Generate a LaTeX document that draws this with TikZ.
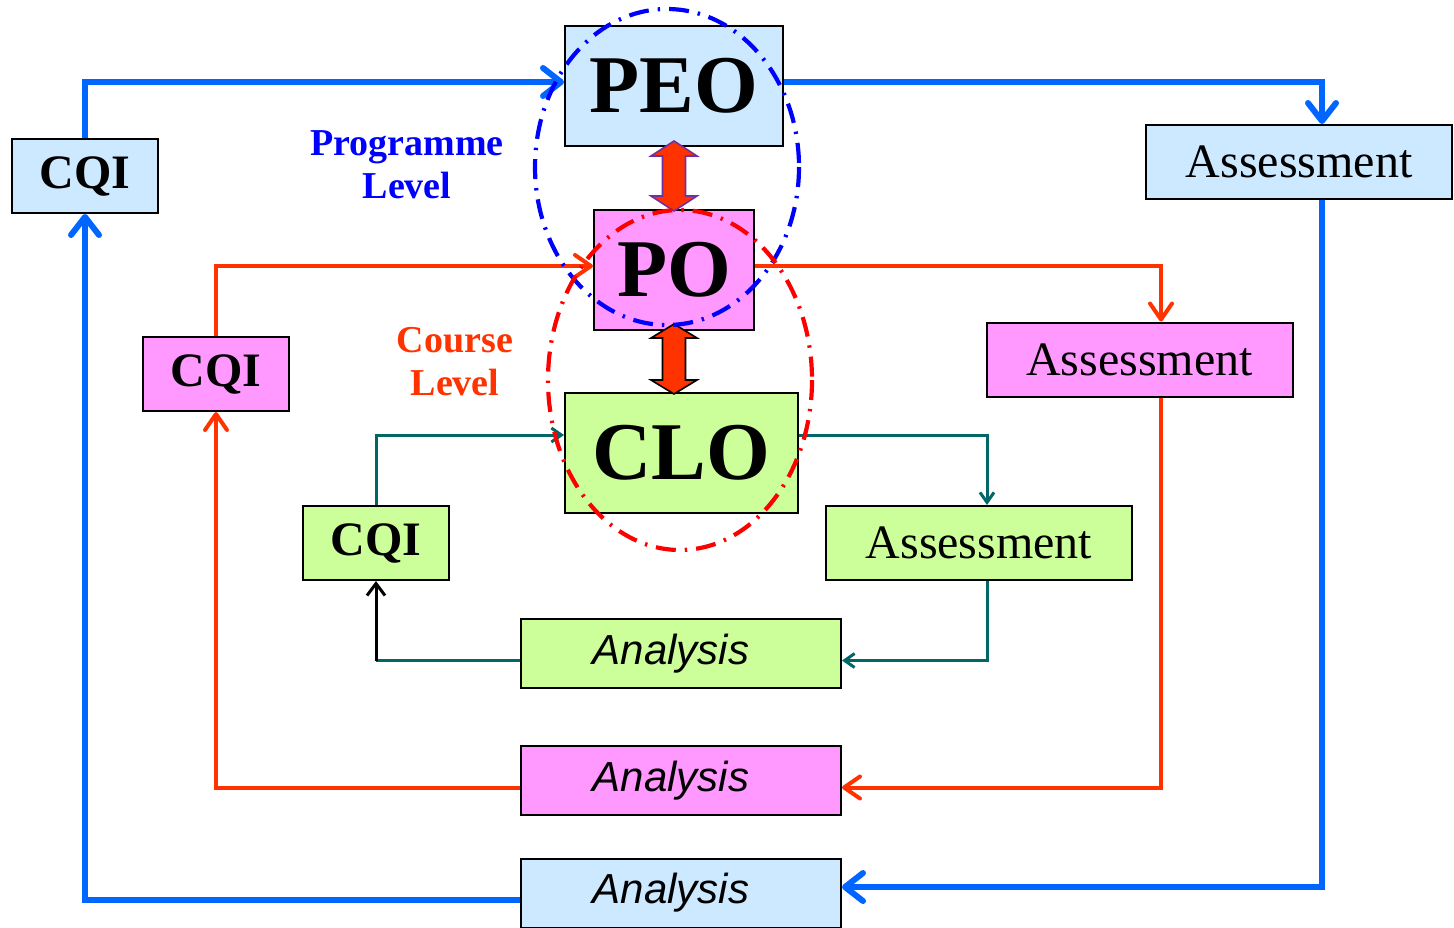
\documentclass[tikz,border=0pt]{standalone}
\usepackage{fontspec}
\setmainfont{Liberation Serif}
\newfontfamily\arialfont{Liberation Sans}
\usetikzlibrary{arrows.meta,calc}

\definecolor{boxblue}{RGB}{204,233,255}
\definecolor{boxmag}{RGB}{255,153,255}
\definecolor{boxgreen}{RGB}{204,255,153}
\definecolor{lineblue}{RGB}{0,102,255}
\definecolor{linered}{RGB}{255,51,0}
\definecolor{lineteal}{RGB}{0,102,102}
\definecolor{arrowrim}{RGB}{112,48,160}

\tikzset{
  box/.style={draw=black, line width=1pt, inner sep=0pt},
  bigbox/.style={box, minimum height=60pt, font=\fontsize{41}{41}\selectfont\bfseries},
  cqibox/.style={box, minimum width=73pt, minimum height=37pt, font=\fontsize{24}{24}\selectfont\bfseries},
  assbox/.style={box, minimum width=153pt, minimum height=37pt, font=\fontsize{24}{24}\selectfont},
  anabox/.style={box, minimum width=160pt, minimum height=34.5pt, font=\arialfont\itshape\fontsize{21}{21}\selectfont},
  bluelink/.style={draw=lineblue, line width=3pt, -{Straight Barb[length=9pt,width=14pt,round]}},
  redlink/.style={draw=linered, line width=2pt, -{Straight Barb[length=8pt,width=11pt,round]}},
  teallink/.style={draw=lineteal, line width=1.5pt, -{Straight Barb[length=5pt,width=7pt]}},
  tealline/.style={draw=lineteal, line width=1.5pt},
  blacklink/.style={draw=black, line width=1.5pt, -{Straight Barb[length=6pt,width=9pt]}},
  blockarrow/.style={fill=linered, line width=0.8pt},
  ringline/.style={line width=2.1pt, dash pattern=on 10pt off 4.5pt on 1.2pt off 4.5pt},
  levellabel/.style={align=center, font=\fontsize{19}{21.5}\selectfont\bfseries}
}

\begin{document}
\begin{tikzpicture}[x=0.5pt,y=-0.5pt]

\useasboundingbox (0,0) rectangle (1454,927);

% outcome boxes
\node[bigbox, fill=boxblue, minimum width=109pt] (peo) at (674,86) {PEO};
\node[bigbox, fill=boxmag, minimum width=80pt] (po) at (674,270) {PO};
\node[bigbox, fill=boxgreen, minimum width=116.5pt] (clo) at (681.5,453) {CLO};

% CQI boxes
\node[cqibox, fill=boxblue] (cqiP) at (85,176) {CQI};
\node[cqibox, fill=boxmag] (cqiO) at (216,374) {CQI};
\node[cqibox, fill=boxgreen] (cqiC) at (376,543) {CQI};

% assessment boxes
\node[assbox, fill=boxblue] (assP) at (1299,162) {Assessment};
\node[assbox, fill=boxmag] (assO) at (1139.5,359.5) {Assessment};
\node[assbox, fill=boxgreen] (assC) at (979,543) {Assessment};

% analysis boxes
\node[anabox, fill=boxgreen] (anaC) at (681,653.5) {\hspace*{-10pt}Analysis};
\node[anabox, fill=boxmag] (anaO) at (681,780.5) {\hspace*{-10pt}Analysis};
\node[anabox, fill=boxblue] (anaP) at (681,893) {\hspace*{-10pt}Analysis};

\node[levellabel, text=blue] (prog) at (407,165) {Programme\\Level};
\node[levellabel, text=linered] (course) at (455,362) {Course\\Level};

% programme loop
\draw[bluelink] (cqiP.north) |- ([yshift=2pt]peo.west);
\draw[bluelink] ([yshift=2pt]peo.east) -| ([xshift=11.5pt]assP.north);
\draw[bluelink] ([xshift=11.5pt]assP.south) |- ([yshift=3pt]anaP.east);
\draw[bluelink] ([yshift=-3.5pt]anaP.west) -| (cqiP.south);

% PO loop
\draw[redlink] (cqiO.north) |- ([yshift=2pt]po.west);
\draw[redlink] ([yshift=2pt]po.east) -| ([xshift=10.75pt]assO.north);
\draw[redlink] ([xshift=10.75pt]assO.south) |- ([yshift=-3.5pt]anaO.east);
\draw[redlink] ([yshift=-3.5pt]anaO.west) -| (cqiO.south);

% course loop
\draw[teallink] (cqiC.north) |- ([yshift=9pt]clo.west);
\draw[teallink] ([yshift=9pt]clo.east) -| ([xshift=4pt]assC.north);
\draw[teallink] ([xshift=4pt]assC.south) |- ([yshift=-3.5pt]anaC.east);
\draw[tealline] ([yshift=-3.5pt]anaC.west) -- ([yshift=-3.5pt]anaC.west -| cqiC.south) coordinate (bend);
\draw[blacklink] (bend) -- (cqiC.south);

% double block arrows
\draw[blockarrow, draw=arrowrim] ($(peo.south)+(0,-6)$) -- ++(23,15) -- ++(-11.5,0) -- ++(0,40)
  -- ++(11.5,0) -- ++(-23,15) -- ++(-23,-15) -- ++(11.5,0) -- ++(0,-40) -- ++(-11.5,0) -- cycle;
\draw[blockarrow, draw=black] ($(po.south)+(0,-7)$) -- ++(23,14) -- ++(-11.5,0) -- ++(0,42)
  -- ++(11.5,0) -- ++(-23,14) -- ++(-23,-14) -- ++(11.5,0) -- ++(0,-42) -- ++(-11.5,0) -- cycle;

% level rings
\draw[ringline, blue] (667,167) ellipse [x radius=132, y radius=158];
\draw[ringline, red] (680,380) ellipse [x radius=132, y radius=170];

\end{tikzpicture}
\end{document}
